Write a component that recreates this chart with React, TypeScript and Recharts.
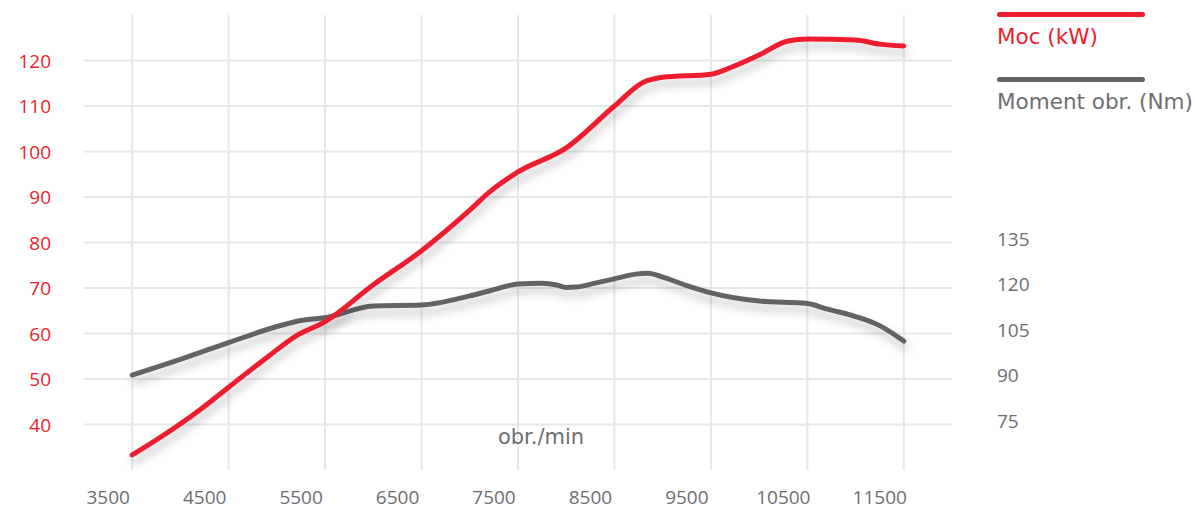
import { CartesianGrid, Legend, Line, LineChart, XAxis, YAxis } from "recharts";

const rpmTicks = [3500, 4500, 5500, 6500, 7500, 8500, 9500, 10500, 11500];
const powerTicks = [40, 50, 60, 70, 80, 90, 100, 110, 120];
const torqueTicks = [75, 90, 105, 120, 135];

// Moc (kW) vs obr./min
const powerRpm = [3500, 3800, 4200, 4500, 4900, 5200, 5500, 6000, 6500, 7000, 7200, 7500, 8000, 8500, 8800, 9000, 9500, 9700, 10000, 10300, 10500, 11000, 11250, 11500];
const powerKw = [33.3, 37.3, 43.2, 48.2, 54.8, 59.5, 62.6, 70.7, 78.2, 87.1, 91.0, 95.5, 100.8, 110.0, 115.2, 116.3, 117.0, 118.4, 121.2, 124.3, 124.7, 124.5, 123.6, 123.2];

// Moment obr. (Nm) vs obr./min
const torqueRpm = [3500, 4000, 4500, 5000, 5250, 5500, 6000, 6500, 7000, 7200, 7500, 7750, 7900, 8000, 8100, 8300, 8500, 8700, 8850, 9000, 9250, 9500, 10000, 10500, 10700, 11000, 11250, 11500];
const torqueNm = [91.3, 96.5, 102.0, 107.3, 109.3, 110.2, 114.1, 114.4, 117.4, 119.0, 121.3, 121.6, 121.0, 120.2, 120.3, 121.6, 123.0, 124.5, 124.9, 123.6, 120.8, 118.4, 115.7, 114.9, 113.1, 110.6, 107.6, 102.5];

const RED = "#ed1c2e";
const GRAY = "#636466";
const LABEL_GRAY = "#6d6e71";
const NUM_FONT = "'Open Sans', sans-serif";
const TEXT_FONT = "'DejaVu Sans', sans-serif";

const powerData = powerRpm.map((rpm, i) => ({ rpm, power: powerKw[i] }));
const torqueData = torqueRpm.map((rpm, i) => ({ rpm, torque: torqueNm[i] }));

function RpmTick({ x, y, payload }: any) {
	return (
		<text x={x - 24} y={y + 26} textAnchor="middle" fill={LABEL_GRAY} fontSize={19} fontFamily={NUM_FONT}>
			{payload.value}
		</text>
	);
}

function PowerTick({ x, y, payload }: any) {
	return (
		<text x={x} y={y + 7} textAnchor="end" fill={RED} fontSize={19} fontFamily={NUM_FONT}>
			{payload.value}
		</text>
	);
}

function TorqueTick({ x, y, payload }: any) {
	return (
		<text x={x} y={y + 3} textAnchor="start" fill={LABEL_GRAY} fontSize={19} fontFamily={NUM_FONT}>
			{payload.value}
		</text>
	);
}

function LegendBox() {
	const item = (color: string, label: string, top: number) => (
		<div style={{ position: "absolute", left: 0, top }}>
			<div style={{ width: 148, height: 5, borderRadius: 3, background: color }} />
			<div style={{ marginTop: 7, color: color === RED ? RED : LABEL_GRAY, fontSize: 21.5, fontFamily: TEXT_FONT, whiteSpace: "nowrap", lineHeight: "26px" }}>
				{label}
			</div>
		</div>
	);
	return (
		<div style={{ position: "relative", width: 200, height: 120 }}>
			{item(RED, "Moc (kW)", 12)}
			{item(GRAY, "Moment obr. (Nm)", 77)}
		</div>
	);
}

export default function App() {
	return (
		<div style={{ position: "absolute", left: 0, top: 0 }}>
			<LineChart width={1196} height={511} margin={{ top: 15, right: 0, bottom: 0, left: 0 }}>
				<defs>
					<filter id="lineShadow" x="-10%" y="-20%" width="120%" height="160%">
						<feDropShadow dx="2" dy="7" stdDeviation="4" floodColor="#000" floodOpacity="0.22" />
					</filter>
				</defs>
				<CartesianGrid
					yAxisId="left"
					syncWithTicks
					horizontalValues={powerTicks}
					verticalValues={rpmTicks}
					stroke="#e6e7e8"
					strokeWidth={2}
				/>
				<XAxis
					dataKey="rpm"
					type="number"
					domain={[3000, 12000]}
					ticks={rpmTicks}
					height={41}
					axisLine={false}
					tickLine={false}
					tick={<RpmTick />}
					allowDuplicatedCategory={false}
					label={{ value: "obr./min", position: "top", offset: 26, dx: 23, fill: LABEL_GRAY, fontSize: 21, fontFamily: TEXT_FONT }}
				/>
				<YAxis
					yAxisId="left"
					orientation="left"
					type="number"
					domain={[30, 130]}
					ticks={powerTicks}
					width={84}
					axisLine={false}
					tickLine={false}
					tickSize={0}
					tickMargin={33}
					tick={<PowerTick />}
				/>
				<YAxis
					yAxisId="right"
					orientation="right"
					type="number"
					domain={[60, 210]}
					ticks={torqueTicks}
					width={244}
					axisLine={false}
					tickLine={false}
					tickSize={0}
					tickMargin={45}
					tick={<TorqueTick />}
				/>
				<Legend
					layout="horizontal"
					align="center"
					verticalAlign="middle"
					wrapperStyle={{ left: 997, top: 0, width: 200 }}
					content={<LegendBox />}
				/>
				<Line
					yAxisId="right"
					data={torqueData}
					dataKey="torque"
					name="Moment obr. (Nm)"
					type="monotone"
					stroke={GRAY}
					strokeWidth={5}
					strokeLinecap="round"
					dot={false}
					activeDot={false}
					filter="url(#lineShadow)"
					isAnimationActive={false}
				/>
				<Line
					yAxisId="left"
					data={powerData}
					dataKey="power"
					name="Moc (kW)"
					type="monotone"
					stroke={RED}
					strokeWidth={5}
					strokeLinecap="round"
					dot={false}
					activeDot={false}
					filter="url(#lineShadow)"
					isAnimationActive={false}
				/>
			</LineChart>
		</div>
	);
}
